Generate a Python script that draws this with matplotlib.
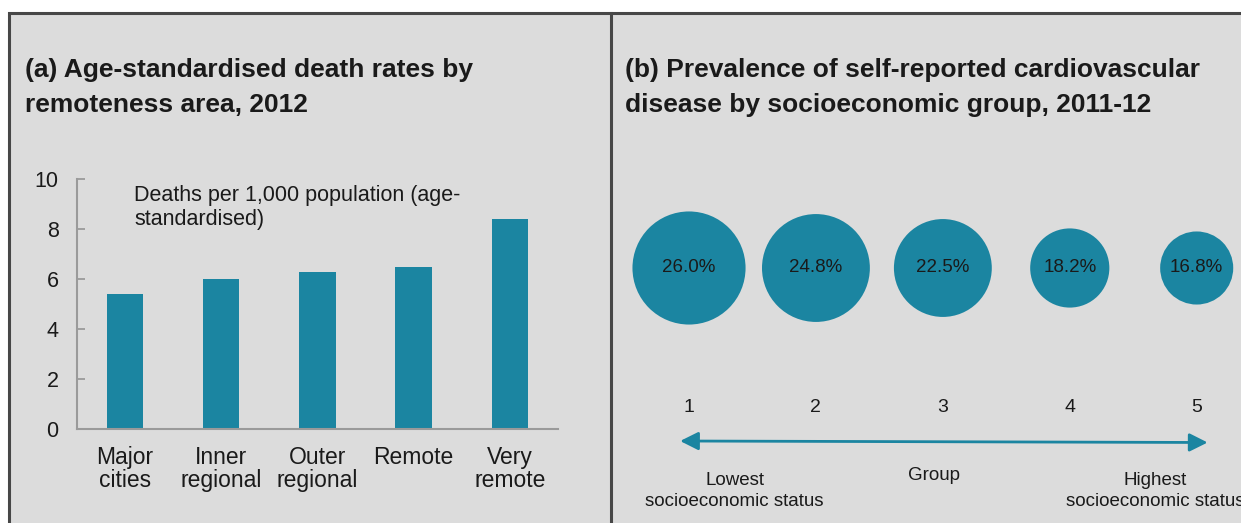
import matplotlib.pyplot as plt
from matplotlib.patches import Rectangle, FancyArrowPatch
from matplotlib.lines import Line2D

plt.rcParams['font.family'] = ['Liberation Sans', 'DejaVu Sans']

# Panel (a): death rates by remoteness area
areas = ['Major\ncities', 'Inner\nregional', 'Outer\nregional', 'Remote', 'Very\nremote']
death_rates = [5.4, 6.0, 6.3, 6.5, 8.4]
rate_ticks = [0, 2, 4, 6, 8, 10]

# Panel (b): CVD prevalence by socioeconomic group
groups = [1, 2, 3, 4, 5]
prevalence = [26.0, 24.8, 22.5, 18.2, 16.8]

TEAL = '#1b85a1'
PANEL = '#dcdcdc'
BORDER = '#474747'
TEXT = '#1a1a1a'

W, H = 1241, 523
fig = plt.figure(figsize=(W / 100, H / 100), dpi=100)
fig.patch.set_facecolor('white')

def fx(px):
    return px / W

def fy(py):
    return 1 - py / H

# grey panel with dark frame and divider, kept behind the axes
fig.patches.append(Rectangle((fx(9), fy(560)), fx(1300), fy(13) - fy(560),
                             transform=fig.transFigure, facecolor=PANEL,
                             edgecolor=BORDER, linewidth=2.2, zorder=-2))
fig.lines.append(Line2D([fx(610.5), fx(610.5)], [0, fy(13)], transform=fig.transFigure,
                        color=BORDER, linewidth=2.2, zorder=-1))

# panel titles
fig.text(fx(25), fy(58), '(a) Age-standardised death rates by\nremoteness area, 2012',
         fontsize=19, fontweight='bold', color=TEXT, va='top', ha='left', linespacing=1.6)
fig.text(fx(625), fy(58), '(b) Prevalence of self-reported cardiovascular\ndisease by socioeconomic group, 2011-12',
         fontsize=19, fontweight='bold', color=TEXT, va='top', ha='left', linespacing=1.6)

# --- (a) bar chart ---
ax = fig.add_axes([fx(76.7), fy(429.3), fx(558) - fx(76.7), fy(179.3) - fy(429.3)])
ax.set_facecolor('none')
x = range(len(areas))
ax.bar(x, death_rates, width=0.38, color=TEAL, zorder=2)
ax.set_xlim(-0.5, len(areas) - 0.5)
ax.set_ylim(0, 10)
ax.set_yticks(rate_ticks)
ax.set_xticks(list(x))
ax.set_xticklabels(areas, fontsize=16.5, color=TEXT, linespacing=1.0)
ax.tick_params(axis='x', length=0, pad=12)
ax.tick_params(axis='y', direction='in', length=6, width=1.3, color='#9a9a9a',
               labelsize=15.5, labelcolor=TEXT, pad=13)
for side in ['top', 'right']:
    ax.spines[side].set_visible(False)
for side in ['left', 'bottom']:
    ax.spines[side].set_color('#9a9a9a')
    ax.spines[side].set_linewidth(1.5)
ax.text(0.119, 0.978, 'Deaths per 1,000 population (age-\nstandardised)', transform=ax.transAxes,
        fontsize=15.5, color=TEXT, va='top', ha='left', linespacing=1.2)

# --- (b) bubble row ---
bx = fig.add_axes([fx(612), 0, fx(1241) - fx(612), 1])
bx.set_axis_off()
bx.set_xlim(1 - (689 - 612) / 126.9, 5 + (1241 - 1196.7) / 126.9)
bx.set_ylim(H, 0)

row_y = 268
# bubble diameter scales linearly with prevalence
sizes = [(4.35 * v * 0.72) ** 2 for v in prevalence]
bx.scatter(groups, [row_y] * len(groups), s=sizes, color=TEAL, linewidths=0, zorder=2)
for g, v in zip(groups, prevalence):
    bx.text(g, row_y, f'{v:.1f}%', fontsize=13.5, color=TEXT, ha='center', va='center', zorder=3)
    bx.text(g, 407, str(g), fontsize=14, color=TEXT, ha='center', va='center')

arrow = FancyArrowPatch((0.93, 441), (5.086, 442.5),
                        arrowstyle='<|-|>,head_length=1.1,head_width=0.55',
                        mutation_scale=10, color=TEAL, linewidth=2, shrinkA=0, shrinkB=0)
bx.add_patch(arrow)

bx.text(1.36, 491, 'Lowest\nsocioeconomic status', fontsize=13.5, color=TEXT,
        ha='center', va='center', linespacing=1.3)
bx.text(2.93, 475, 'Group', fontsize=13.5, color=TEXT, ha='center', va='center')
bx.text(4.67, 491, 'Highest\nsocioeconomic status', fontsize=13.5, color=TEXT,
        ha='center', va='center', linespacing=1.3)

fig.savefig('out.png', dpi=100, facecolor=fig.get_facecolor())
